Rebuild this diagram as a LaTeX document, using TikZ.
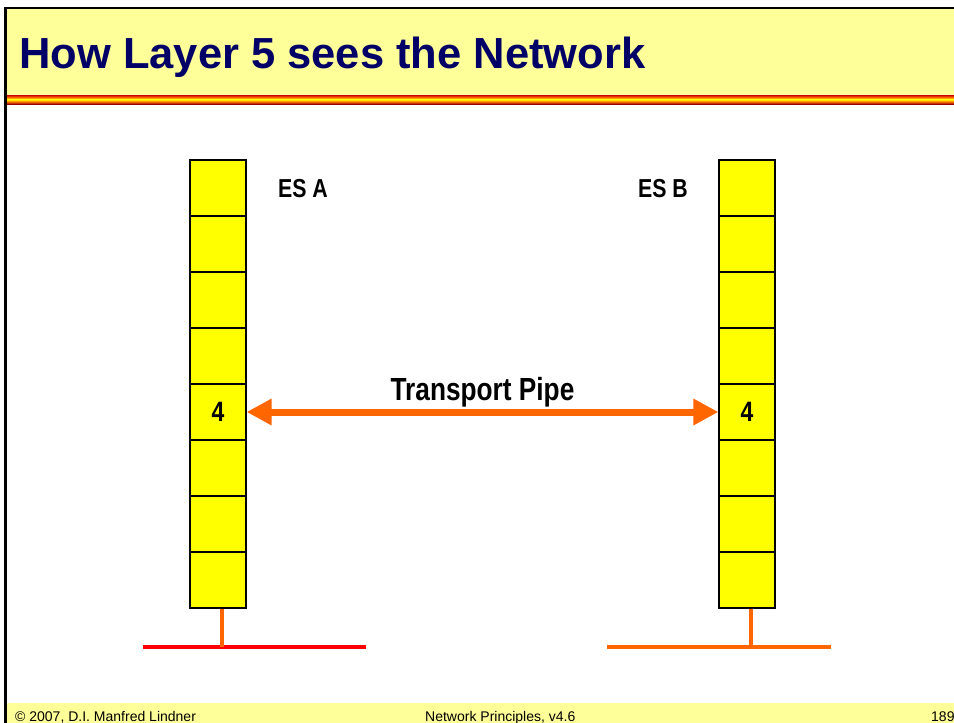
\documentclass[tikz,border=0pt]{standalone}
\usepackage{fontspec}
\setmainfont{Liberation Sans}
\newfontfamily\narrowfont[FakeStretch=0.82]{Liberation Sans}
\usepackage{xcolor}
\usetikzlibrary{arrows.meta, positioning}

\definecolor{slideyellow}{HTML}{FFFF99}
\definecolor{titleblue}{HTML}{000066}
\definecolor{pipeorange}{HTML}{FF6600}
\definecolor{layeryellow}{HTML}{FFFF00}

\begin{document}
\begin{tikzpicture}[
    x=1pt, y=-1pt,
    >=Stealth,
    layer/.style={draw=black, line width=1.2pt, fill=layeryellow, minimum width=56pt, minimum height=56pt, inner sep=0pt, font=\narrowfont\bfseries\fontsize{28}{30}\selectfont},
    eslabel/.style={font=\narrowfont\bfseries\fontsize{26}{30}\selectfont, inner sep=0pt},
    pipe/.style={{Triangle[length=25pt, width=25pt]}-{Triangle[length=25pt, width=25pt]}, line width=7pt, color=pipeorange},
    stub/.style={line width=3.5pt, color=pipeorange},
    bus/.style={line width=4pt},
    footer/.style={font=\fontsize{14}{16}\selectfont, anchor=base west, inner sep=0pt}
]
\useasboundingbox (0,0) rectangle (954,723);

% Slide frame
\fill[slideyellow] (5,9) rectangle (954,95);
\shade[top color=red!80!black, bottom color=orange] (5,95) rectangle (954,97.5);
\shade[top color=orange, bottom color=yellow] (5,97.5) rectangle (954,99.5);
\shade[top color=yellow, bottom color=orange] (5,99.5) rectangle (954,101.5);
\shade[top color=orange, bottom color=red!60!black] (5,101.5) rectangle (954,104);
\fill[slideyellow] (5,703) rectangle (954,723);
\draw[line width=2.5pt] (5.5,723) -- (5.5,8) -- (954,8);

% Title
\node[anchor=base west, inner sep=0pt, font=\bfseries\fontsize{43.5}{46}\selectfont, text=titleblue] (title) at (19,68) {How Layer 5 sees the Network};

% Stacks
\foreach \i in {1,...,8} {
    \node[layer] (a\i) at (218,{132+56*\i}) {};
    \node[layer] (b\i) at (747,{132+56*\i}) {};
}
\node[layer] at (a5) {4};
\node[layer] at (b5) {4};

\node[eslabel] (esa) at (303,189) {ES A};
\node[eslabel] (esb) at (663,189) {ES B};

% Transport Pipe
\draw[pipe] (a5.east) -- node[above=1pt, inner sep=0pt, font=\narrowfont\bfseries\fontsize{32}{34}\selectfont, text=black] (pipelabel) {Transport Pipe} (b5.west);

% Networks
\coordinate (lana) at (143,647);
\coordinate (lanaend) at (366,647);
\coordinate (lanb) at (607,647);
\coordinate (lanbend) at (831,647);
\draw[bus, red] (lana) -- (lanaend);
\draw[bus, pipeorange] (lanb) -- (lanbend);
\draw[stub] ([xshift=4pt]a8.south) -- ([xshift=4pt]a8.south |- lana);
\draw[stub] ([xshift=4pt]b8.south) -- ([xshift=4pt]b8.south |- lanb);

% Footer
\node[footer] (copy) at (15,721) {© 2007, D.I. Manfred Lindner};
\node[footer] (course) at (425,721) {Network Principles, v4.6};
\node[footer] (page) at (931,721) {189};

\end{tikzpicture}
\end{document}
